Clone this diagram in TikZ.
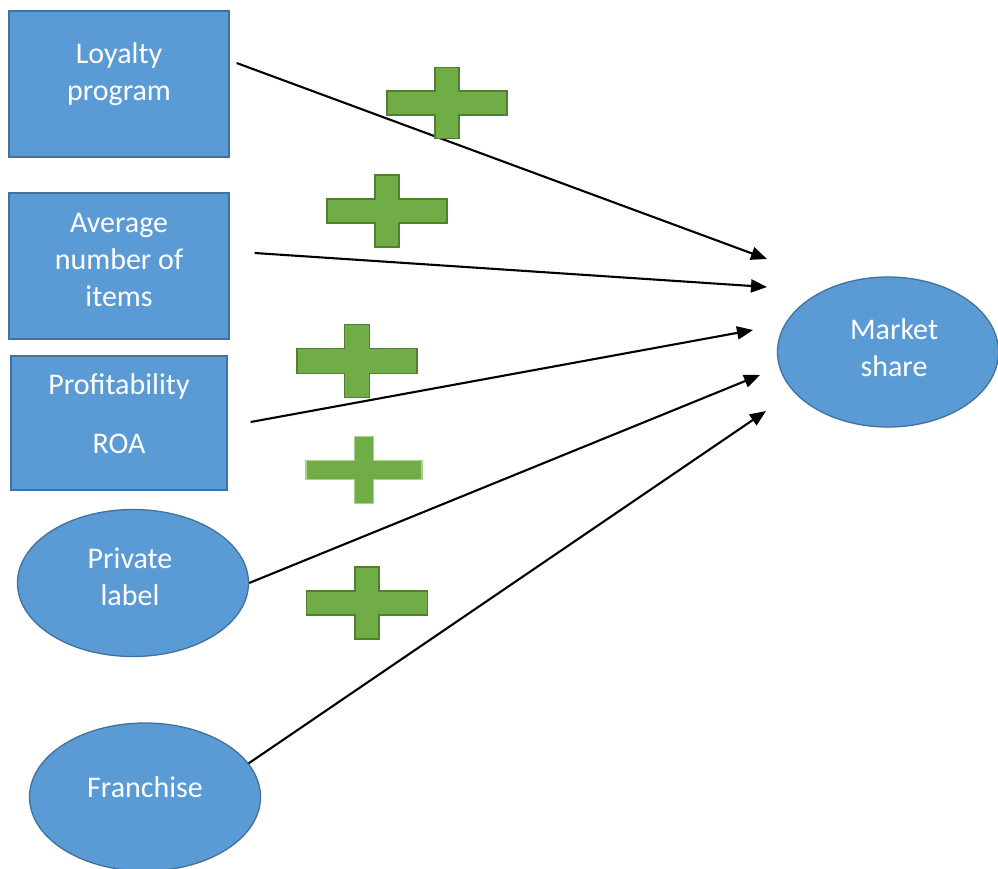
\documentclass[tikz,border=0pt]{standalone}
\usepackage{fontspec}
\setmainfont{Carlito}
\usetikzlibrary{shapes.geometric,arrows.meta,calc}

\definecolor{boxblue}{HTML}{5B9BD5}
\definecolor{boxedge}{HTML}{41719C}
\definecolor{plusgreen}{HTML}{70AD47}
\definecolor{plusedge}{HTML}{507E32}
\definecolor{pluslight}{HTML}{A9D18E}

% #2 centre, #3 half width, #4 half height, #5 half bar
\newcommand{\plusmark}[5][]{%
  \filldraw[plusmark,#1,shift={(#2)}]
    (-#3,-#5) -- (-#5,-#5) -- (-#5,-#4) -- (#5,-#4) -- (#5,-#5) -- (#3,-#5)
    -- (#3,#5) -- (#5,#5) -- (#5,#4) -- (-#5,#4) -- (-#5,#5) -- (-#3,#5) -- cycle;}

\begin{document}
\begin{tikzpicture}[
    x=1pt, y=-1pt,
    box/.style={rectangle, draw=boxedge, fill=boxblue, line width=1.3pt, inner sep=0pt},
    blob/.style={ellipse, draw=boxedge, fill=boxblue, line width=1.3pt, inner sep=0pt},
    txt/.style={text=white, align=center, font=\fontsize{30}{37}\selectfont},
    plusmark/.style={fill=plusgreen, draw=plusedge, line width=1.2pt},
    link/.style={line width=2.1pt, -{Triangle[length=16pt,width=13pt]}}
]
\useasboundingbox (0,0) rectangle (998,868);

% causes
\node[box, minimum width=220pt, minimum height=146pt] (loyalty) at (119,84) {};
\node[box, minimum width=220pt, minimum height=146pt] (items) at (119,266) {};
\node[box, minimum width=216pt, minimum height=134pt] (roa) at (119,423) {};
\node[blob, minimum width=231pt, minimum height=147pt] (private) at (133,583) {};
\node[blob, minimum width=231pt, minimum height=148pt] (franchise) at (145,797) {};

% effect
\node[blob, minimum width=221pt, minimum height=150pt] (market) at (888,352) {};

% texts
\node[txt] (loyalty-t) at ([yshift=10pt]loyalty) {Loyalty\\program};
\node[txt] (items-t) at ([yshift=6pt]items) {Average\\number of\\items};
\node[txt] (roa-t) at ([yshift=9pt]roa) {Profitability\\[22pt]ROA};
\node[txt] (private-t) at ([xshift=-3pt,yshift=6pt]private) {Private\\label};
\node[txt] (franchise-t) at ([yshift=10pt]franchise) {Franchise};
\node[txt] (market-t) at ([xshift=6pt,yshift=4pt]market) {Market\\share};

% arrow tips
\coordinate (in1) at (767,259);
\coordinate (in2) at (767,287);
\coordinate (in3) at (753,330);
\coordinate (in4) at (760,375);
\coordinate (in5) at (766,411);

\draw[link] ($(loyalty.east)+(7,-21)$) -- (in1);
\draw[link] ($(items.east)+(25,-13)$) -- (in2);
\draw[link] ($(roa.east)+(23,-1)$) -- (in3);
\draw[link] (private.east) -- (in4);
\draw[link] (franchise.18) -- (in5);

% plus signs
\plusmark{447,103}{60}{35.5}{12}
\plusmark{387,211}{60}{36}{12}
\plusmark{357,361}{60}{36.5}{12.5}
\plusmark[draw=pluslight]{364,470}{58}{33.5}{9.5}
\plusmark{367,603}{60.5}{36}{12}
\end{tikzpicture}
\end{document}
